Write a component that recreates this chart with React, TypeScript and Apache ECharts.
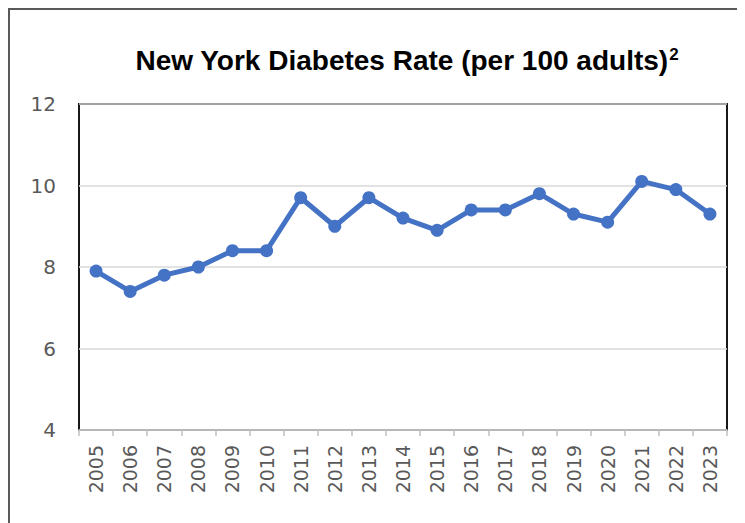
import React, { useEffect, useRef } from "react";
import * as echarts from "echarts";

const years = ["2005","2006","2007","2008","2009","2010","2011","2012","2013","2014","2015","2016","2017","2018","2019","2020","2021","2022","2023"];
const rates = [7.9, 7.4, 7.8, 8.0, 8.4, 8.4, 9.7, 9.0, 9.7, 9.2, 8.9, 9.4, 9.4, 9.8, 9.3, 9.1, 10.1, 9.9, 9.3];
const titleMain = "New York Diabetes Rate (per 100 adults)";
const titleSup = "2";

export default function App() {
  const ref = useRef<HTMLDivElement>(null);
  useEffect(() => {
    if (!ref.current) return;
    const chart = echarts.init(ref.current, undefined, { renderer: "svg" });
    chart.setOption({
      animation: false,
      backgroundColor: "#fff",
      title: {
        text: `{a|${titleMain}}{s|${titleSup}}`,
        left: 392,
        top: 27,
        textAlign: "center",
        textStyle: {
          fontFamily: "Liberation Sans", fontWeight: "bold", fontSize: 28, color: "#000",
          rich: {
            a: { fontFamily: "Liberation Sans", fontWeight: "bold", fontSize: 28, color: "#000", lineHeight: 36, verticalAlign: "middle" },
            s: { fontFamily: "Liberation Sans", fontWeight: "bold", fontSize: 17, color: "#000", lineHeight: 36, verticalAlign: "top", padding: [4, 0, 0, 1] },
          },
        },
      },
      grid: {
        left: 69, right: 16, top: 94, bottom: 93,
        show: true, borderColor: "#000", borderWidth: 1.8,
      },
      xAxis: {
        type: "category",
        data: years,
        boundaryGap: true,
        axisLine: { lineStyle: { color: "#bfbfbf", width: 1.5 } },
        axisTick: { show: true, length: 6, lineStyle: { color: "#bfbfbf", width: 1.5 } },
        axisLabel: { rotate: 90, margin: 15, fontSize: 19, color: "#595959", fontFamily: "DejaVu Sans", interval: 0 },
      },
      yAxis: {
        type: "value",
        min: 4, max: 12, interval: 2,
        axisLine: { show: false },
        axisTick: { show: false },
        splitLine: { lineStyle: { color: "#d9d9d9", width: 1.5 } },
        axisLabel: { margin: 23, fontSize: 20, color: "#595959", fontFamily: "DejaVu Sans" },
      },
      series: [{
        type: "line",
        data: rates,
        symbol: "circle",
        symbolSize: 13,
        lineStyle: { color: "#4472C4", width: 5 },
        itemStyle: { color: "#4472C4" },
      }],
    });
    return () => chart.dispose();
  }, []);
  return (
    <div style={{ width: 737, height: 515, boxSizing: "border-box", borderTop: "2px solid #595959", borderLeft: "2px solid #595959", borderRight: "2px solid #595959", background: "#fff" }}>
      <div ref={ref} style={{ width: 733, height: 513 }} />
    </div>
  );
}
